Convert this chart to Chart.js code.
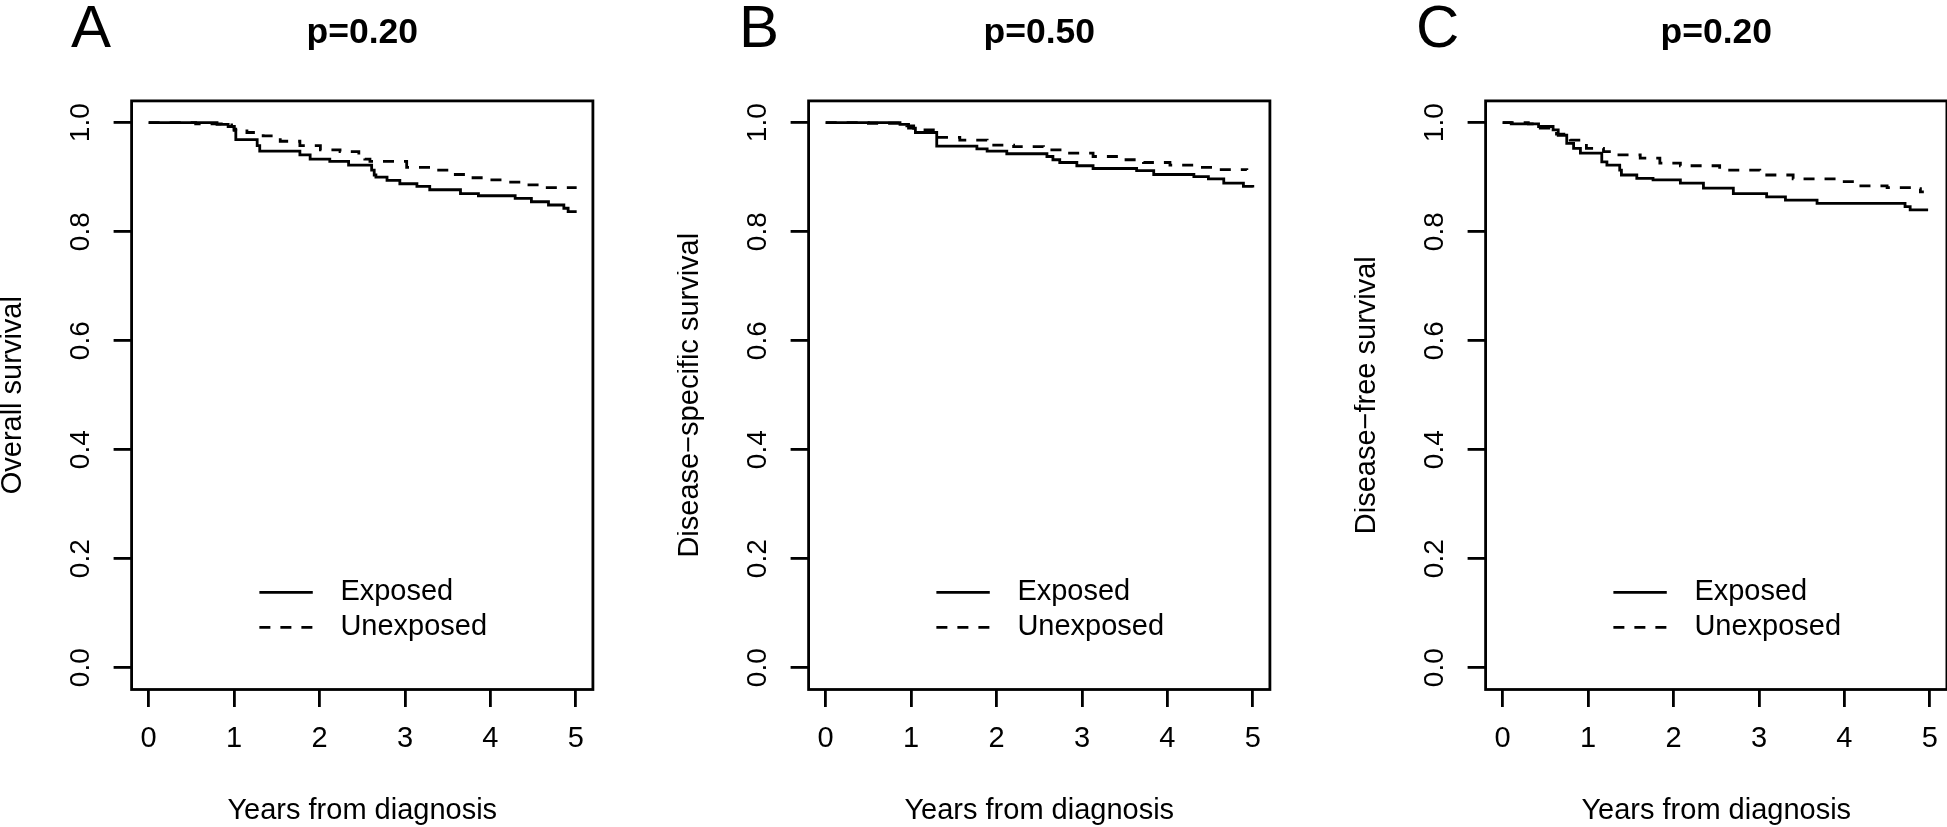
<!DOCTYPE html>
<html>
<head>
<meta charset="utf-8">
<script src="https://cdn.jsdelivr.net/npm/chart.js@4.4.1/dist/chart.umd.min.js"></script>
<style>
  html, body { margin: 0; padding: 0; background: #fff; overflow: hidden; }
  .panel { position: absolute; top: 0; width: 677px; height: 827px; }
</style>
</head>
<body>
<div class="panel" style="left:0px"><canvas id="chartA" width="677" height="827"></canvas></div>
<div class="panel" style="left:677px"><canvas id="chartB" width="677" height="827"></canvas></div>
<div class="panel" style="left:1354px"><canvas id="chartC" width="677" height="827"></canvas></div>
<script>
// axes
const xTicks = [0, 1, 2, 3, 4, 5];
const yTicks = [0, 0.2, 0.4, 0.6, 0.8, 1.0];
const yTickLabels = ['0.0', '0.2', '0.4', '0.6', '0.8', '1.0'];
const seriesLabels = ['Exposed', 'Unexposed'];
const xTitle = 'Years from diagnosis';

const panelLetters = ['A', 'B', 'C'];
const pValueTitles = ['p=0.20', 'p=0.50', 'p=0.20'];
const yTitles = ['Overall survival', 'Disease\u2212specific survival', 'Disease\u2212free survival'];

// Panel A - overall survival (time in years, survival probability)
const timeA_exposed = [0, 0.80, 0.93, 1.00, 1.02, 1.27, 1.30, 1.77, 1.89, 2.12, 2.34, 2.61, 2.64, 2.66, 2.79, 2.94, 3.14, 3.29, 3.65, 3.86, 4.29, 4.48, 4.68, 4.86, 4.91, 5.01];
const survA_exposed = [1, 0.997, 0.993, 0.986, 0.969, 0.958, 0.948, 0.941, 0.933, 0.929, 0.922, 0.913, 0.904, 0.900, 0.894, 0.888, 0.883, 0.877, 0.870, 0.866, 0.861, 0.855, 0.849, 0.843, 0.837, 0.837];
const timeA_unexposed = [0, 0.55, 0.85, 0.97, 1.00, 1.15, 1.34, 1.54, 1.77, 2.01, 2.24, 2.46, 2.53, 2.59, 3.02, 3.33, 3.53, 3.72, 3.96, 4.15, 4.39, 4.62, 5.01];
const survA_unexposed = [1, 0.998, 0.996, 0.993, 0.988, 0.982, 0.976, 0.966, 0.958, 0.950, 0.947, 0.941, 0.933, 0.929, 0.918, 0.913, 0.905, 0.899, 0.895, 0.891, 0.886, 0.881, 0.881];

// Panel B - disease-specific survival
const timeB_exposed = [0, 0.87, 0.97, 1.05, 1.30, 1.77, 1.89, 2.12, 2.59, 2.66, 2.74, 2.94, 3.13, 3.64, 3.84, 4.31, 4.48, 4.66, 4.89, 5.00];
const survB_exposed = [1, 0.997, 0.990, 0.982, 0.957, 0.952, 0.948, 0.943, 0.938, 0.932, 0.927, 0.921, 0.916, 0.912, 0.905, 0.901, 0.897, 0.889, 0.883, 0.881];
const timeB_unexposed = [0, 0.50, 0.95, 1.03, 1.26, 1.57, 1.89, 2.20, 2.55, 2.82, 3.13, 3.45, 3.72, 4.03, 4.31, 4.58, 4.93];
const survB_unexposed = [1, 0.999, 0.994, 0.987, 0.973, 0.968, 0.959, 0.956, 0.950, 0.944, 0.938, 0.932, 0.927, 0.922, 0.918, 0.914, 0.913];

// Panel C - disease-free survival
const timeC_exposed = [0, 0.10, 0.42, 0.59, 0.65, 0.75, 0.83, 0.91, 1.16, 1.22, 1.37, 1.39, 1.57, 1.76, 2.08, 2.35, 2.70, 3.09, 3.31, 3.68, 4.71, 4.77, 4.98];
const survC_exposed = [1, 0.998, 0.993, 0.987, 0.977, 0.962, 0.953, 0.944, 0.928, 0.922, 0.913, 0.904, 0.898, 0.895, 0.889, 0.880, 0.870, 0.864, 0.858, 0.852, 0.846, 0.840, 0.840];
const timeC_unexposed = [0, 0.30, 0.44, 0.63, 0.79, 0.98, 1.18, 1.30, 1.61, 1.84, 2.08, 2.54, 3.01, 3.40, 3.91, 4.15, 4.50, 4.85, 4.89, 4.93];
const survC_unexposed = [1, 0.998, 0.990, 0.979, 0.968, 0.953, 0.947, 0.941, 0.935, 0.926, 0.921, 0.913, 0.904, 0.897, 0.892, 0.884, 0.881, 0.879, 0.873, 0.873];

const FONT = '"Liberation Sans", Arial, Helvetica, sans-serif';
const LINE_W = 2.8;

// R-like extras: box, rotated y tick labels, panel letter, legend
const rStylePlugin = {
    id: 'rStyle',
    afterDraw(chart, args, opts) {
        const ctx = chart.ctx;
        const ca = chart.chartArea;
        const yScale = chart.scales.y;
        ctx.save();
        ctx.strokeStyle = '#000';
        ctx.fillStyle = '#000';
        ctx.lineWidth = LINE_W;
        ctx.strokeRect(ca.left, ca.top, ca.right - ca.left, ca.bottom - ca.top);

        // y tick labels, parallel to the axis like R
        ctx.font = '28px ' + FONT;
        ctx.textAlign = 'center';
        ctx.textBaseline = 'alphabetic';
        yTicks.forEach((v, i) => {
            ctx.save();
            ctx.translate(ca.left - 42.3, yScale.getPixelForValue(v));
            ctx.rotate(-Math.PI / 2);
            ctx.fillText(yTickLabels[i], 0, 0);
            ctx.restore();
        });

        // panel letter
        ctx.font = '60px ' + FONT;
        ctx.textAlign = 'left';
        ctx.fillText(opts.letter, opts.letterX, 46.7);

        // legend
        const w = ca.right - ca.left;
        const h = ca.bottom - ca.top;
        const lx = ca.left + 0.277 * w;
        chart.data.datasets.forEach((ds, i) => {
            const ly = ca.top + 0.835 * h + i * 35;
            ctx.lineWidth = ds.borderWidth;
            ctx.setLineDash(ds.borderDash || []);
            ctx.beginPath();
            ctx.moveTo(lx, ly);
            ctx.lineTo(lx + 53.4, ly);
            ctx.stroke();
            ctx.setLineDash([]);
            ctx.font = '29px ' + FONT;
            ctx.textBaseline = 'middle';
            ctx.fillText(ds.label, lx + 81, ly);
        });
        ctx.restore();
    }
};

function makeDataset(label, times, surv, dashed) {
    return {
        label: label,
        data: times.map((t, i) => ({ x: t, y: surv[i] })),
        borderColor: '#000',
        borderWidth: LINE_W,
        borderDash: dashed ? [11, 10] : [],
        stepped: true,
        pointRadius: 0,
        fill: false
    };
}

function makeChart(id, idx, tExp, sExp, tUnexp, sUnexp, letterX) {
    return new Chart(document.getElementById(id), {
        type: 'line',
        data: {
            datasets: [
                makeDataset(seriesLabels[0], tExp, sExp, false),
                makeDataset(seriesLabels[1], tUnexp, sUnexp, true)
            ]
        },
        options: {
            responsive: false,
            animation: false,
            devicePixelRatio: 1,
            events: [],
            layout: { padding: { left: 0, top: 0, right: 84.1, bottom: 0 } },
            plugins: {
                legend: { display: false },
                tooltip: { enabled: false },
                title: {
                    display: true,
                    text: pValueTitles[idx],
                    fullSize: false,
                    color: '#000',
                    font: { family: FONT, size: 35.5, weight: 'bold', lineHeight: 1 },
                    padding: { top: 15.9, bottom: 49.5 }
                },
                rStyle: { letter: panelLetters[idx], letterX: letterX }
            },
            scales: {
                x: {
                    type: 'linear',
                    min: -0.2,
                    max: 5.2,
                    afterBuildTicks: s => { s.ticks = xTicks.map(v => ({ value: v })); },
                    afterFit: s => { s.height = 137.5; },
                    border: { display: false },
                    grid: { drawOnChartArea: false, drawTicks: true, tickLength: 17.5, color: '#000', lineWidth: LINE_W },
                    ticks: {
                        color: '#000',
                        font: { family: FONT, size: 29, lineHeight: 1 },
                        padding: 17.4,
                        maxRotation: 0,
                        autoSkip: false,
                        callback: v => String(v)
                    },
                    title: {
                        display: true,
                        text: xTitle,
                        color: '#000',
                        font: { family: FONT, size: 29, lineHeight: 1 },
                        padding: { top: 0, bottom: 1.5 }
                    }
                },
                y: {
                    type: 'linear',
                    min: -0.04,
                    max: 1.04,
                    afterBuildTicks: s => { s.ticks = yTicks.map(v => ({ value: v })); },
                    afterFit: s => { s.width = 131.6; },
                    border: { display: false },
                    grid: { drawOnChartArea: false, drawTicks: true, tickLength: 18, color: '#000', lineWidth: LINE_W },
                    ticks: { display: false },
                    title: {
                        display: true,
                        text: yTitles[idx],
                        color: '#000',
                        font: { family: FONT, size: 29, lineHeight: 0.87 },
                        padding: { top: 0, bottom: 0 }
                    }
                }
            }
        },
        plugins: [rStylePlugin]
    });
}

makeChart('chartA', 0, timeA_exposed, survA_exposed, timeA_unexposed, survA_unexposed, 71);
makeChart('chartB', 1, timeB_exposed, survB_exposed, timeB_unexposed, survB_unexposed, 62);
makeChart('chartC', 2, timeC_exposed, survC_exposed, timeC_unexposed, survC_unexposed, 62);
</script>
</body>
</html>
